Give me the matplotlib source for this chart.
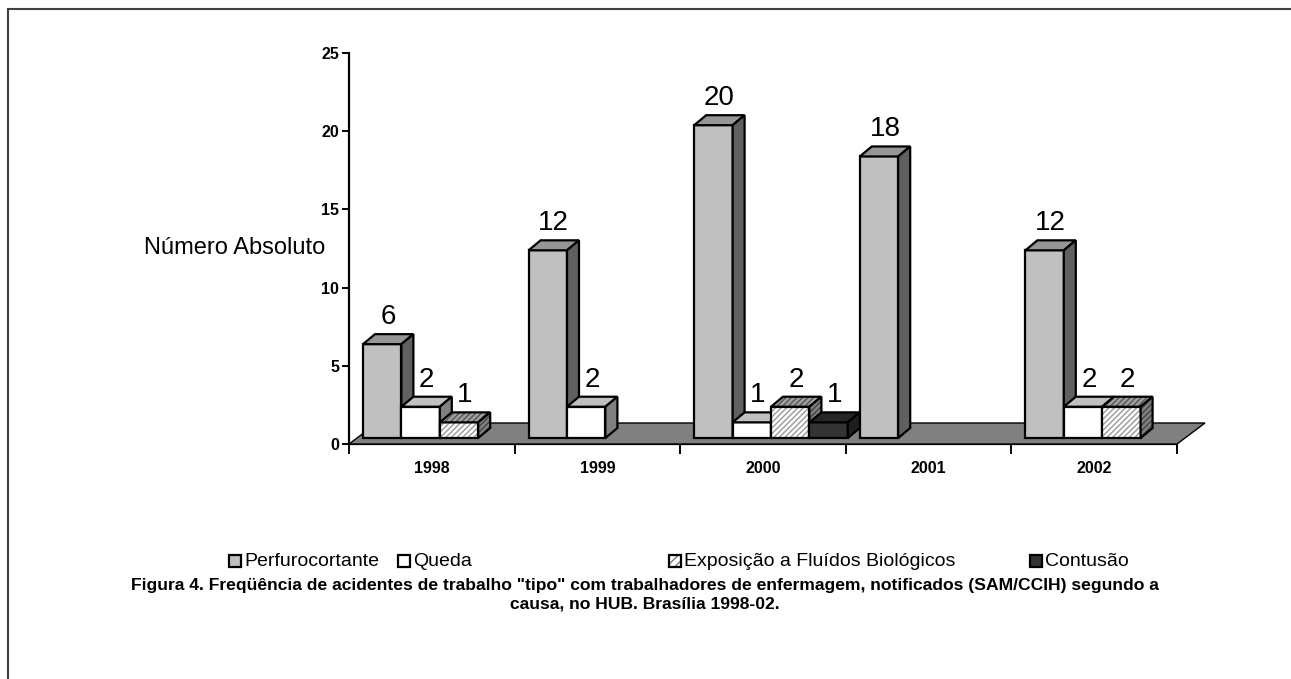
import matplotlib
matplotlib.use("Agg")
import matplotlib.pyplot as plt
from matplotlib.patches import Polygon, Rectangle
from matplotlib.lines import Line2D

plt.rcParams['font.family'] = ['Liberation Sans', 'DejaVu Sans']
plt.rcParams['hatch.linewidth'] = 1.0

# data
years = ['1998', '1999', '2000', '2001', '2002']
series_names = ['Perfurocortante', 'Queda', 'Exposição a Fluídos Biológicos', 'Contusão']
perfurocortante = [6, 12, 20, 18, 12]
queda = [2, 2, 1, 0, 2]
exposicao = [1, 0, 2, 0, 2]
contusao = [0, 0, 1, 0, 0]
series = [perfurocortante, queda, exposicao, contusao]

# face colours: front, top, side, hatch
styles = [
    dict(front='#c0c0c0', top='#969696', side='#606060', hatch=None),
    dict(front='#ffffff', top='#c0c0c0', side='#808080', hatch=None),
    dict(front='#ffffff', top='#a0a0a0', side='#808080', hatch='//////'),
    dict(front='#333333', top='#262626', side='#1e1e1e', hatch=None),
]

W, H = 1291, 679
fig = plt.figure(figsize=(W / 100, H / 100), dpi=100)
ax_l, ax_r, ax_b, ax_t = 349, 1177, 444, 53
ax = fig.add_axes([ax_l / W, 1 - ax_b / H, (ax_r - ax_l) / W, (ax_b - ax_t) / H])
ax.set_xlim(0, len(years))
ax.set_ylim(0, 25)

# pixel -> data conversion for the pseudo 3D depth
px_x = (ax_r - ax_l) / len(years)
px_y = (ax_b - ax_t) / 25
def d(px, py):
    return px / px_x, py / px_y

floor_dx, floor_dy = d(28, 21)
off_dx, off_dy = d(8, 6)
dep_dx, dep_dy = d(12, 10)
margin = 6 / px_x
bw = (1 - 2 * margin) / len(series)

# floor
n = len(years)
floor = Polygon([(0, 0), (n, 0), (n + floor_dx, floor_dy), (floor_dx, floor_dy)],
                closed=True, facecolor='#808080', edgecolor='black', lw=1.0,
                clip_on=False, zorder=1)
ax.add_patch(floor)

def face(target, pts, st, color, z, hatch_col='#8a8a8a'):
    if st['hatch']:
        target.add_patch(Polygon(pts, closed=True, facecolor=color, edgecolor=hatch_col,
                                 hatch=st['hatch'], lw=0, clip_on=False, zorder=z))
        target.add_patch(Polygon(pts, closed=True, fill=False, edgecolor='black',
                                 lw=1.6, clip_on=False, zorder=z + 0.01))
    else:
        target.add_patch(Polygon(pts, closed=True, facecolor=color, edgecolor='black',
                                 lw=1.6, clip_on=False, zorder=z))

z = 2
for i in range(n):
    for j, vals in enumerate(series):
        v = vals[i]
        if v == 0:
            continue
        st = styles[j]
        x0 = i + margin + j * bw + off_dx
        x1 = x0 + bw
        y0 = off_dy
        y1 = off_dy + v
        front = [(x0, y0), (x1, y0), (x1, y1), (x0, y1)]
        top = [(x0, y1), (x1, y1), (x1 + dep_dx, y1 + dep_dy), (x0 + dep_dx, y1 + dep_dy)]
        side = [(x1, y0), (x1 + dep_dx, y0 + dep_dy), (x1 + dep_dx, y1 + dep_dy), (x1, y1)]
        face(ax, front, st, st['front'], z, '#999999')
        face(ax, top, st, st['top'], z + 0.1, '#555555')
        face(ax, side, st, st['side'], z + 0.2, '#444444')
        ax.text((x0 + x1) / 2 + dep_dx / 2, y1 + dep_dy + 4 / px_y, str(v),
                ha='center', va='bottom', fontsize=20, zorder=20)
        z += 1

# axes styling
for s in ['top', 'right']:
    ax.spines[s].set_visible(False)
ax.spines['left'].set_linewidth(1.6)
ax.spines['bottom'].set_linewidth(1.6)
ax.spines['bottom'].set_zorder(0.5)
ax.set_yticks(range(0, 26, 5))
ax.set_xticks(range(0, n + 1))
ax.set_xticklabels([])
ax.set_xticks([i + 0.5 for i in range(n)], minor=True)
ax.set_xticklabels(years, minor=True, fontsize=11.5, fontweight='bold')
ax.tick_params(axis='x', which='major', direction='out', length=7, width=1.4)
ax.tick_params(axis='x', which='minor', length=0, pad=12)
ax.tick_params(axis='y', direction='out', length=5, width=1.4, labelsize=11.5, pad=2)
for lab in ax.get_yticklabels():
    lab.set_fontweight('bold')
ax.patch.set_visible(False)

fig.text(235 / W, 1 - 248 / H, 'Número Absoluto', ha='center', va='center', fontsize=17)

# legend, placed by hand like the original
legend_x = [229, 398, 669, 1030]
key = 12
for name, st, lx in zip(series_names, styles, legend_x):
    x0, y0 = lx / W, 1 - (561 + key / 2) / H
    w, h = key / W, key / H
    if st['hatch']:
        fig.add_artist(Rectangle((x0, y0), w, h, facecolor='white', edgecolor='#777777',
                                 hatch='////', lw=0, transform=fig.transFigure))
        fig.add_artist(Rectangle((x0, y0), w, h, fill=False, edgecolor='black',
                                 lw=1.6, transform=fig.transFigure))
    else:
        fig.add_artist(Rectangle((x0, y0), w, h, facecolor=st['front'], edgecolor='black',
                                 lw=1.6, transform=fig.transFigure))
    fig.text((lx + key + 3) / W, 1 - 561 / H, name, ha='left', va='center', fontsize=14)

caption = ('Figura 4. Freqüência de acidentes de trabalho "tipo" com trabalhadores de enfermagem, '
           'notificados (SAM/CCIH) segundo a\ncausa, no HUB. Brasília 1998-02.')
fig.text(645 / W, 1 - 595 / H, caption, ha='center', va='center', fontsize=12.6,
         fontweight='bold', linespacing=1.3)

# frame around the figure (only top and left edges are visible)
fig.add_artist(Line2D([8 / W, 8 / W], [0, 1 - 9 / H], color='#404040', lw=1.5))
fig.add_artist(Line2D([8 / W, 1], [1 - 9 / H, 1 - 9 / H], color='#404040', lw=1.5))

fig.savefig('out.png', dpi=100)
